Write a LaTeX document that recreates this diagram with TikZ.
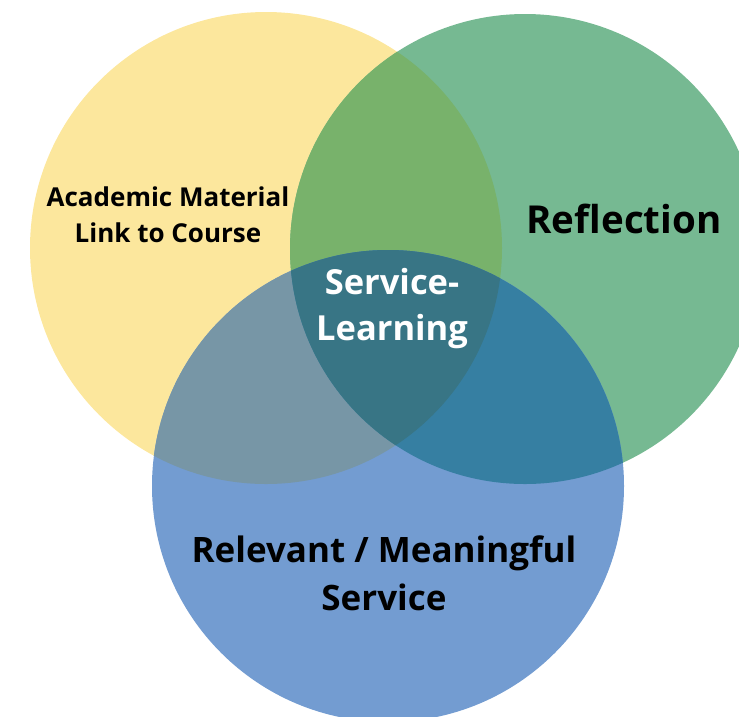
\documentclass[tikz,border=0pt]{standalone}
\usepackage{fontspec}
\setmainfont{Open Sans}
\definecolor{cyel}{HTML}{FCE79D}
\definecolor{cgrn}{HTML}{76B992}
\definecolor{cblu}{HTML}{739CD1}
\definecolor{cyg}{HTML}{78B26B}
\definecolor{cyb}{HTML}{7796A6}
\definecolor{cgb}{HTML}{367FA2}
\definecolor{cygb}{HTML}{387585}
\begin{document}
\begin{tikzpicture}[x=1pt,y=-1pt,
  lbl/.style={align=center,font=\bfseries,inner sep=0pt}]
\useasboundingbox (0,0) rectangle (739,716);
\clip (0,0) rectangle (739,716);
\def\Y{(266,248) circle[radius=236]}
\def\G{(525,249) circle[radius=235]}
\def\B{(388,486) circle[radius=236]}
\fill[cyel] \Y;
\fill[cgrn] \G;
\fill[cblu] \B;
\begin{scope}\clip \Y; \fill[cyg] \G; \end{scope}
\begin{scope}\clip \Y; \fill[cyb] \B; \end{scope}
\begin{scope}\clip \G; \fill[cgb] \B; \end{scope}
\begin{scope}\clip \Y; \clip \G; \fill[cygb] \B; \end{scope}
\node[lbl,font=\bfseries\fontsize{26}{36}\selectfont] (acad) at (168,215) {Academic Material\\Link to Course};
\node[lbl,font=\bfseries\fontsize{38.5}{40}\selectfont] (refl) at (624,219) {Reflection};
\node[lbl,text=white,font=\bfseries\fontsize{34.5}{46}\selectfont] (sl) at (392,309) {Service-\\Learning};
\node[lbl,font=\bfseries\fontsize{35}{48}\selectfont] (serv) at (384,573) {Relevant / Meaningful\\Service};
\end{tikzpicture}
\end{document}
